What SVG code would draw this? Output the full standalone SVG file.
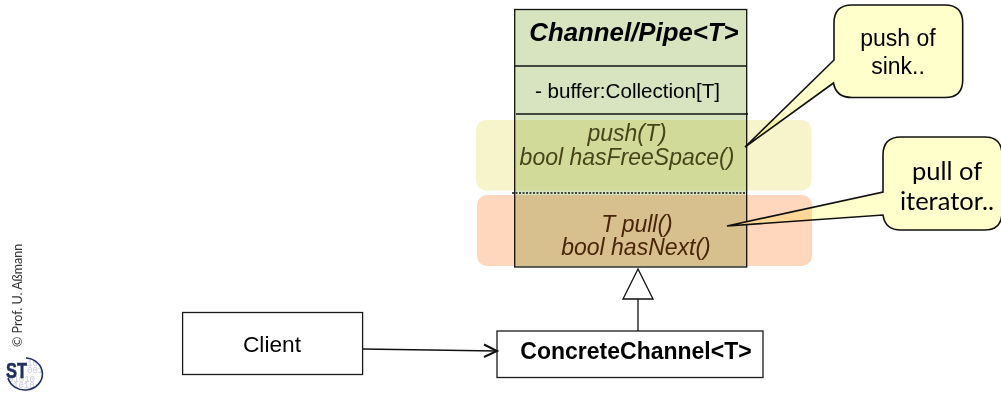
<svg xmlns="http://www.w3.org/2000/svg" width="1001" height="394" viewBox="0 0 1001 394">
<style>
.s{font-family:"Liberation Sans",Arial,sans-serif}
.l{font-family:Lato,"Liberation Sans",sans-serif}
.i{font-style:italic;font-size:23px;text-anchor:middle}
.box{fill:#fff;stroke:#1a1a1a;stroke-width:1.3}
.ln{stroke:#111;stroke-width:1.3;fill:none}
.co{fill:#ffffcc;stroke:#111;stroke-width:1.6}
.band{mix-blend-mode:multiply}
.d{font-family:"Liberation Mono",monospace;font-size:9px;fill:#c9c9e2}
</style>
<rect width="1001" height="394" fill="#fff"/>
<g id="channel">
<rect x="514.7" y="9.5" width="232" height="257.5" fill="#d8e4c0" stroke="#111" stroke-width="1.3"/>
<line class="ln" x1="515" y1="66" x2="747" y2="66"/>
<line class="ln" x1="516" y1="114" x2="748" y2="114"/>
<line class="ln" x1="512" y1="193" x2="747" y2="193" stroke-dasharray="2 1.5" stroke-width="1"/>
<text class="s" x="634" y="41" font-size="25.800" font-weight="bold" font-style="italic" text-anchor="middle">Channel/Pipe&lt;T&gt;</text>
<text class="s" x="627.5" y="98" font-size="20.600" text-anchor="middle">- buffer:Collection[T]</text>
</g>
<g id="callout-push">
<path class="co" d="M852 5H945Q962.7 5 962.7 23V80Q962.7 97.5 945 97.5H852Q836 97.5 833.5 83L745 147L834 60V23Q834 5 852 5Z"/>
<text class="s" x="898" y="46" font-size="23" text-anchor="middle">push of</text>
<text class="s" x="898" y="74" font-size="23" text-anchor="middle">sink..</text>
</g>
<g id="callout-pull">
<path class="co" d="M901 137H985Q1002 137 1002 155V212Q1002 230 985 230H901Q885 230 883 215L727 226L883 192V155Q883 137 901 137Z"/>
<text class="l" x="947" y="180" font-size="25.500" text-anchor="middle">pull of</text>
<text class="l" x="947" y="210" font-size="25.500" text-anchor="middle">iterator..</text>
</g>
<g id="bands">
<rect class="band" x="476" y="120" width="335.5" height="70.5" rx="10" fill="#f7f4cc"/>
<rect class="band" x="477" y="195" width="335" height="71" rx="10" fill="#ffd7bd"/>
</g>
<g id="channel-methods">
<text class="s i" x="627" y="141" fill="#46451a">push(T)</text>
<text class="s i" x="627" y="165" fill="#46451a">bool hasFreeSpace()</text>
<text class="s i" x="637" y="232" fill="#4a2408">T pull()</text>
<text class="s i" x="636" y="255" fill="#4a2408">bool hasNext()</text>
</g>
<g id="client">
<rect class="box" x="182.6" y="312.5" width="180" height="62"/>
<text class="s" x="272" y="352" font-size="22.700" text-anchor="middle">Client</text>
</g>
<g id="concrete-channel">
<rect class="box" x="497" y="331" width="266" height="46.5"/>
<text class="s" x="636" y="359" font-size="23" font-weight="bold" text-anchor="middle">ConcreteChannel&lt;T&gt;</text>
</g>
<g id="connectors">
<path class="ln" d="M362.5 349L497 351"/>
<path d="M484 344.500L497 351L484 357" fill="none" stroke="#111" stroke-width="2"/>
<path class="ln" d="M638 331V299"/>
<path d="M638 269L623 299H653Z" fill="#fff" stroke="#111" stroke-width="1.3"/>
</g>
<g id="footer">
<text class="l" transform="translate(22 347) rotate(-90)" font-size="12.500" fill="#333">© Prof. U. Aßmann</text>
<text class="d" x="27" y="366">10</text>
<text class="d" x="27" y="373">001</text>
<text class="d" x="8" y="382">01010</text>
<text class="d" x="13" y="388">1010</text>
<path d="M26 358A17.500 16 0 1 1 8 378" fill="none" stroke="#1f2f5f" stroke-width="1.600"/>
<text class="s" x="6" y="378" font-size="22" font-weight="bold" fill="#1f2f5f" stroke="#1f2f5f" stroke-width=".6" textLength="21" lengthAdjust="spacingAndGlyphs">ST</text>
</g>
</svg>
